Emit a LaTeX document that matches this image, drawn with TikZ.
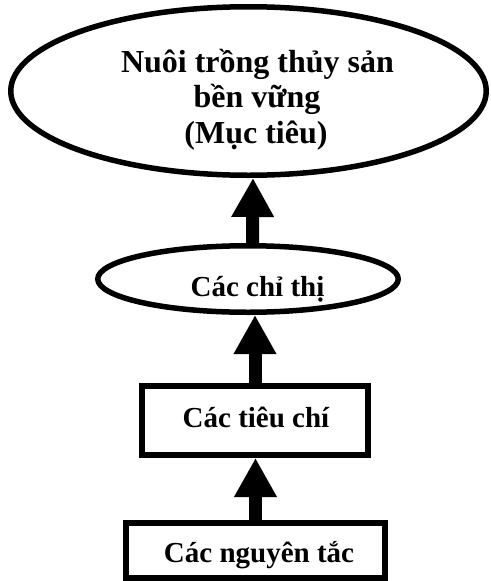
\documentclass[tikz,border=0pt]{standalone}
\usepackage{fontspec}
\setmainfont{Liberation Serif}
\usetikzlibrary{shapes.geometric,arrows.meta}
\begin{document}
\begin{tikzpicture}[x=1pt,y=-1pt,
  ell/.style={ellipse, draw, line width=5.5pt, inner sep=0pt},
  box/.style={rectangle, draw, line width=6pt, inner sep=0pt},
  lbl/.style={font=\bfseries\fontsize{29}{34}\selectfont, anchor=base, inner sep=0pt},
  biglbl/.style={font=\bfseries\fontsize{32}{36}\selectfont, anchor=base, inner sep=0pt},
  bigarrow/.style={line width=13pt, -{Triangle[width=40pt,length=39pt]}}]
\useasboundingbox (0,0) rectangle (490,581);
% shapes
\node[ell, minimum width=475.5pt, minimum height=168.5pt] (goal) at (248.5,91) {};
\node[ell, minimum width=300.5pt, minimum height=66.5pt] (ind) at (248,279) {};
\node[box, minimum width=226pt, minimum height=69pt] (crit) at (255,420.5) {};
\node[box, minimum width=259pt, minimum height=55pt] (prin) at (255.5,550.5) {};
% texts
\node[biglbl] (g1) at (257.5,72) {Nuôi trồng thủy sản};
\node[biglbl] (g2) at (257,107.5) {bền vững};
\node[biglbl] (g3) at (256,143) {(Mục tiêu)};
\node[lbl] (indt) at (257.5,296) {Các chỉ thị};
\node[lbl] (critt) at (256,427) {Các tiêu chí};
\node[lbl] (print) at (259,562) {Các nguyên tắc};
% arrows
\draw[bigarrow] ([xshift=4.5pt]ind.north) -- ([xshift=4.5pt]goal.south);
\draw[bigarrow] (crit.north) -- (crit.north |- ind.south);
\draw[bigarrow] (prin.north) -- (prin.north |- crit.south);
\end{tikzpicture}
\end{document}
